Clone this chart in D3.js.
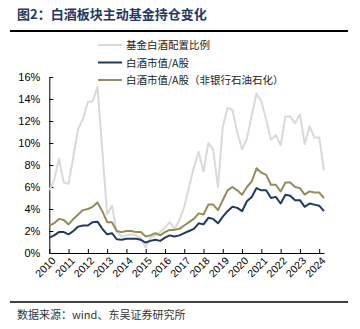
<!DOCTYPE html>
<html>
<head>
<meta charset="utf-8">
<script src="https://cdn.jsdelivr.net/npm/d3@7"></script>
<style>
body { margin: 0; background: #fff; }
</style>
</head>
<body>
<script>
var quarters = ["2010Q1","2010Q2","2010Q3","2010Q4","2011Q1","2011Q2","2011Q3","2011Q4",
                "2012Q1","2012Q2","2012Q3","2012Q4","2013Q1","2013Q2","2013Q3","2013Q4",
                "2014Q1","2014Q2","2014Q3","2014Q4","2015Q1","2015Q2","2015Q3","2015Q4",
                "2016Q1","2016Q2","2016Q3","2016Q4","2017Q1","2017Q2","2017Q3","2017Q4",
                "2018Q1","2018Q2","2018Q3","2018Q4","2019Q1","2019Q2","2019Q3","2019Q4",
                "2020Q1","2020Q2","2020Q3","2020Q4","2021Q1","2021Q2","2021Q3","2021Q4",
                "2022Q1","2022Q2","2022Q3","2022Q4","2023Q1","2023Q2","2023Q3","2023Q4",
                "2024Q1","2024Q2"];

// 基金白酒配置比例 (%)
var fundShare = [5.7,6.6,8.6,6.4,6.3,8.8,11.3,12.2,13.7,13.8,15.1,9.3,3.5,4.3,1.9,1.5,
                 1.6,1.7,1.6,1.3,0.5,1.4,1.6,1.9,2.3,2.8,2.2,3.0,4.2,6.0,7.8,9.2,
                 7.4,10.0,9.4,6.0,11.5,13.2,13.0,11.0,9.4,10.4,12.5,14.5,13.8,12.1,10.3,10.7,
                 9.8,12.4,12.4,11.8,12.6,9.9,11.5,10.5,10.5,7.5];
// 白酒市值/A股 (%)
var mktShare = [1.4,1.6,1.9,1.9,1.7,2.0,2.4,2.5,2.5,2.8,2.85,2.2,1.7,1.8,1.25,1.2,
                1.3,1.3,1.3,1.2,0.95,1.1,1.2,1.1,1.4,1.6,1.5,1.6,1.8,2.0,2.2,2.7,
                2.6,3.2,3.1,2.7,3.3,3.8,4.2,4.1,3.8,4.7,5.1,5.9,5.7,5.7,5.0,5.1,
                4.5,5.3,5.2,4.8,4.8,4.2,4.5,4.4,4.3,3.8];
// 白酒市值/A股（非银行石油石化）(%)
var mktShareEx = [2.5,2.7,3.1,3.0,2.6,3.1,3.5,3.9,4.0,4.2,4.6,3.8,2.8,2.8,2.0,1.9,
                  2.0,2.0,1.9,1.9,1.5,1.6,1.8,1.6,1.9,2.1,2.1,2.2,2.5,2.8,3.1,3.6,
                  3.5,4.4,4.4,3.9,4.8,5.7,6.0,5.7,5.3,6.0,6.5,7.7,7.3,7.1,6.2,6.2,
                  5.6,6.4,6.4,6.0,5.9,5.3,5.6,5.5,5.5,5.0];

var years = [2010,2011,2012,2013,2014,2015,2016,2017,2018,2019,2020,2021,2022,2023,2024];
var yTicks = [0,2,4,6,8,10,12,14,16];

var seriesNames = ["基金白酒配置比例", "白酒市值/A股", "白酒市值/A股（非银行石油石化）"];
var seriesColors = ["#d9d9d9", "#1f3a63", "#958b5b"];

var w = 360;
var h = 329;

var svg = d3.select("body")
            .append("svg")
            .attr("width", w)
            .attr("height", h);

// title
svg.append("text")
    .attr("x", 17)
    .attr("y", 19)
    .attr("font-family", "Noto Sans CJK SC")
    .attr("font-weight", "bold")
    .attr("font-size", 13)
    .attr("fill", "#1f3864")
    .text("图2：白酒板块主动基金持仓变化");

svg.append("line")
    .attr("x1", 10).attr("x2", 348)
    .attr("y1", 31).attr("y2", 31)
    .attr("stroke", "#000")
    .attr("stroke-width", 1.8);

// quarter -> fractional year
function qx(q) {
    return +q.slice(0, 4) + (+q.slice(5) - 1) / 4;
}

var x = d3.scaleLinear()
    .domain([2010, 2024.25])
    .range([49.3, 324]);

var y = d3.scaleLinear()
    .domain([0, 16])
    .range([253, 77]);

var xAxis = svg.append("g")
    .attr("transform", "translate(0," + y(0) + ")")
    .call(d3.axisBottom(x).tickValues(years).tickFormat(d3.format("d")).tickSizeInner(-4).tickSizeOuter(0));

xAxis.selectAll("text")
    .attr("font-family", "Liberation Sans")
    .attr("font-size", 10.5)
    .attr("fill", "#000")
    .attr("text-anchor", "end")
    .attr("transform", "translate(2,4) rotate(-45)")
    .attr("dx", 0)
    .attr("dy", "0.6em")
    .attr("y", 0);

var yAxis = svg.append("g")
    .attr("transform", "translate(" + x(2010) + ",0)")
    .call(d3.axisLeft(y).tickValues(yTicks).tickFormat(function(d){ return d + "%"; }).tickSizeInner(-4).tickSizeOuter(0));

yAxis.selectAll("text")
    .attr("font-family", "Liberation Sans")
    .attr("font-size", 11)
    .attr("fill", "#000")
    .attr("x", -9);

svg.selectAll(".domain").attr("stroke", "#000");
svg.selectAll(".tick line").attr("stroke", "#000");

var line = d3.line()
    .x(function(d, i){ return x(qx(quarters[i])); })
    .y(function(d){ return y(d); });

var allSeries = [fundShare, mktShare, mktShareEx];

svg.selectAll("path.series")
    .data(allSeries)
    .enter()
    .append("path")
    .attr("class", "series")
    .attr("d", function(d){ return line(d); })
    .attr("fill", "none")
    .attr("stroke", function(d, i){ return seriesColors[i]; })
    .attr("stroke-width", 2)
    .attr("stroke-linejoin", "round");

// legend
var legend = svg.selectAll("g.legend")
    .data(seriesNames)
    .enter()
    .append("g")
    .attr("class", "legend")
    .attr("transform", function(d, i){ return "translate(98," + (45 + i * 17.5) + ")"; });

legend.append("line")
    .attr("x1", 0).attr("x2", 24)
    .attr("y1", 0).attr("y2", 0)
    .attr("stroke", function(d, i){ return seriesColors[i]; })
    .attr("stroke-width", 2);

legend.append("text")
    .attr("x", 28)
    .attr("y", 4)
    .attr("font-family", "Noto Sans CJK SC")
    .attr("font-size", 10.5)
    .attr("fill", "#222")
    .text(function(d){ return d; });

// footer
svg.append("line")
    .attr("x1", 10).attr("x2", 348)
    .attr("y1", 302).attr("y2", 302)
    .attr("stroke", "#000")
    .attr("stroke-width", 1.5);

svg.append("text")
    .attr("x", 17)
    .attr("y", 319)
    .attr("font-family", "Noto Sans CJK SC")
    .attr("font-size", 11)
    .attr("fill", "#333")
    .text("数据来源：wind、东吴证券研究所");
</script>
</body>
</html>
